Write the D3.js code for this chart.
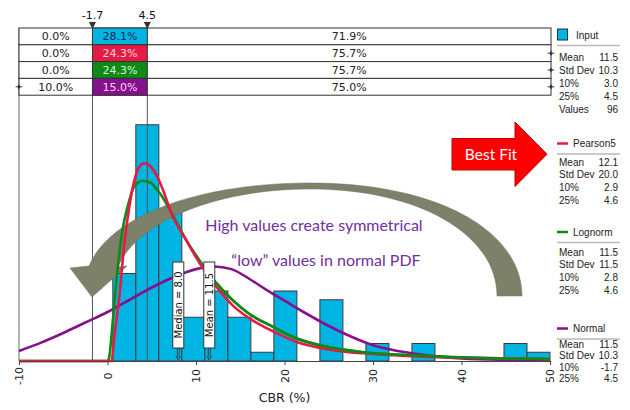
<!DOCTYPE html>
<html>
<head>
<meta charset="utf-8">
<script src="https://cdn.jsdelivr.net/npm/d3@7"></script>
<style>
  body { margin: 0; background: #fff; }
  svg { display: block; font-family: "DejaVu Sans", sans-serif; }
</style>
</head>
<body>
<div class="content"></div>
<script>
//--> Histogram data (CBR %, counts of 96 values)
const binEdges = [0.6, 3.2, 5.8, 8.4, 11.0, 13.6, 16.2, 18.8, 21.4, 24.0, 26.6, 29.2, 31.8, 34.4, 37.0, 39.6, 42.2, 44.8, 47.4, 50.0];
const binCounts = [10, 27, 17, 5, 8, 5, 1, 8, 0, 7, 0, 2, 0, 2, 0, 0, 0, 2, 1];

//--> Fitted curves [CBR, scaled density]
const pearson5Pts = [
  [-10, 0], [0, 0], [0.45, 0], [0.77, 2.8], [1.33, 7.3], [1.9, 13.4], [2.46, 17.6], [3.0, 20.5],
  [3.6, 22.2], [4.16, 22.6], [4.9, 22.2], [5.66, 21.0], [6.4, 19.2], [7.2, 16.9], [8.9, 13.8],
  [10.4, 11.2], [12.3, 8.5], [14.2, 6.3], [16.0, 4.9], [19.1, 3.2], [21.3, 2.2], [24.0, 1.5],
  [26.6, 1.1], [29.3, 0.85], [34.2, 0.55], [38.7, 0.4], [44.4, 0.3], [50, 0.22]
];
const lognormPts = [
  [-10, 0], [0, 0], [0.2, 0.45], [0.57, 4.3], [1.13, 10.4], [1.7, 15.0], [2.26, 17.6], [3.0, 19.9],
  [3.96, 20.6], [4.8, 20.4], [5.9, 19.2], [7.3, 16.8], [8.9, 13.8], [10.4, 11.5], [12.3, 8.9],
  [14.2, 6.9], [16.0, 5.4], [18.7, 3.9], [21.3, 2.6], [24.0, 1.8], [26.6, 1.3], [29.3, 0.95],
  [34.2, 0.65], [38.7, 0.45], [44.4, 0.3], [50, 0.22]
];
const normalPts = [
  [-10, 1.15], [-7.5, 2.1], [-5, 3.2], [-2.5, 4.4], [0, 5.6], [2.5, 7.0], [5, 8.4], [7.5, 9.6],
  [10, 10.5], [12, 10.8], [14, 10.5], [16, 9.4], [18, 8.1], [20, 6.9], [22.5, 5.4], [25, 4.0],
  [27.5, 2.8], [30, 1.8], [32.5, 1.2], [35, 0.8], [37.5, 0.5], [40, 0.3], [45, 0.12], [50, 0.05]
];

//--> Axis, markers, table
const xTicks = [-10, 0, 10, 20, 30, 40, 50];
const markerValues = [-1.7, 4.5];
const leftPct = ["0.0%", "0.0%", "0.0%", "10.0%"];
const midPct = ["28.1%", "24.3%", "24.3%", "15.0%"];
const rightPct = ["71.9%", "75.7%", "75.7%", "75.0%"];
const medianValue = 8.0;
const meanValue = 11.5;

//--> Legend
const seriesNames = ["Input", "Pearson5", "Lognorm", "Normal"];
const seriesColors = ["#00b4e4", "#e41b45", "#0f8a17", "#86118c"];
const midTextColors = ["#0b2a55", "#ffd6de", "#d6f5d6", "#f4d6f6"];
const statLabels = [
  ["Mean", "Std Dev", "10%", "25%", "Values"],
  ["Mean", "Std Dev", "10%", "25%"],
  ["Mean", "Std Dev", "10%", "25%"],
  ["Mean", "Std Dev", "10%", "25%"]
];
const statValues = [
  ["11.5", "10.3", "3.0", "4.5", "96"],
  ["12.1", "20.0", "2.9", "4.6"],
  ["11.5", "11.5", "2.8", "4.6"],
  ["11.5", "10.3", "-1.7", "4.5"]
];

//--> Set up main elements
const width = 630;
const height = 410;

const svg = d3
  .select(".content")
  .append("svg")
  .attr("width", width)
  .attr("height", height);

const x = d3.scaleLinear().domain([-10, 50]).range([19, 550]);
const y = d3.scaleLinear().domain([0, 30.4]).range([361, 95]);

const tableTop = 28;
const rowH = 16.8;
const tableRight = x(50) + 1;

//--> Histogram bars
const bins = binCounts
  .map((c, i) => ({ lo: binEdges[i], hi: binEdges[i + 1], c }))
  .filter(d => d.c > 0);

svg
  .append("g")
  .selectAll("rect")
  .data(bins)
  .join("rect")
  .attr("x", d => x(d.lo))
  .attr("y", d => y(d.c))
  .attr("width", d => x(d.hi) - x(d.lo))
  .attr("height", d => y(0) - y(d.c))
  .attr("fill", seriesColors[0])
  .attr("stroke", "#3b3b3b")
  .attr("stroke-width", 1);

//--> Left border and marker lines
svg
  .append("line")
  .attr("x1", x(-10))
  .attr("x2", x(-10))
  .attr("y1", tableTop)
  .attr("y2", y(0))
  .attr("stroke", "#666");

svg
  .append("g")
  .selectAll("line")
  .data(markerValues)
  .join("line")
  .attr("x1", d => x(d))
  .attr("x2", d => x(d))
  .attr("y1", 24)
  .attr("y2", y(0))
  .attr("stroke", "#555");

//--> Gray curved arrow (annotation)
svg
  .append("path")
  .attr(
    "d",
    "M522,296 C522,232 440,183 310,183 C200,183 110,215 89,266 L70,268 L92,297 L127,266 L118,267 C135,225 210,189 310,189 C420,189 497,235 497,296 Z"
  )
  .attr("fill", "#7d816a")
  .attr("stroke", "#6f735c")
  .attr("stroke-width", 0.5);

//--> Fitted curves
const line = d3
  .line()
  .x(d => x(d[0]))
  .y(d => y(d[1]))
  .curve(d3.curveMonotoneX);

[
  [normalPts, seriesColors[3]],
  [lognormPts, seriesColors[2]],
  [pearson5Pts, seriesColors[1]],
].forEach(([pts, color]) => {
  svg
    .append("path")
    .attr("d", line(pts))
    .attr("fill", "none")
    .attr("stroke", color)
    .attr("stroke-width", 2.6);
});

// green tail drawn again so it shows above red as in the reference
svg
  .append("path")
  .attr("d", line(lognormPts.filter(d => d[0] >= 12)))
  .attr("fill", "none")
  .attr("stroke", seriesColors[2])
  .attr("stroke-width", 2.6);

//--> Median and mean flags
const flags = [
  { v: medianValue, label: `Median = ${medianValue.toFixed(1)}` },
  { v: meanValue, label: `Mean = ${meanValue.toFixed(1)}` },
];

const flag = svg.append("g").selectAll("g").data(flags).join("g");

flag
  .append("rect")
  .attr("x", d => x(d.v) - 5.5)
  .attr("y", 262)
  .attr("width", 11)
  .attr("height", 86)
  .attr("fill", "#fff")
  .attr("stroke", "#333");

flag
  .append("text")
  .attr("transform", d => `translate(${x(d.v) + 0.5},305) rotate(-90)`)
  .attr("text-anchor", "middle")
  .attr("dy", "0.35em")
  .attr("font-size", 10)
  .attr("fill", "#111")
  .text(d => d.label);

flag
  .append("path")
  .attr("d", d => `M${x(d.v) - 1},348V358M${x(d.v) + 1},348V358M${x(d.v) - 2.5},356L${x(d.v)},360L${x(d.v) + 2.5},356`)
  .attr("fill", "none")
  .attr("stroke", "#333")
  .attr("stroke-width", 0.8);

//--> X axis
const xAxis = svg
  .append("g")
  .attr("transform", `translate(0,${y(0)})`)
  .call(
    d3
      .axisBottom(x)
      .tickValues(xTicks)
      .tickFormat(d => String(d))
      .tickSize(4)
      .tickSizeOuter(0)
  );

xAxis.select(".domain").attr("stroke", "#444");
xAxis.selectAll(".tick line").attr("stroke", "#444");
xAxis
  .selectAll(".tick text")
  .attr("transform", "rotate(-90)")
  .attr("x", -15)
  .attr("y", 0)
  .attr("dy", "0.35em")
  .attr("text-anchor", "middle")
  .attr("font-size", 11)
  .attr("font-family", '"DejaVu Sans", sans-serif')
  .attr("fill", "#222");

svg
  .append("text")
  .attr("x", x(20))
  .attr("y", 402)
  .attr("text-anchor", "middle")
  .attr("font-size", 12.5)
  .attr("fill", "#222")
  .text("CBR (%)");

//--> Table of probabilities
const rows = svg
  .append("g")
  .selectAll("g")
  .data(d3.range(4))
  .join("g")
  .attr("transform", i => `translate(0,${tableTop + i * rowH})`);

rows
  .append("rect")
  .attr("x", x(-10))
  .attr("width", tableRight - x(-10))
  .attr("height", rowH)
  .attr("fill", "#fff")
  .attr("stroke", "#333");

rows
  .append("rect")
  .attr("x", x(markerValues[0]))
  .attr("width", x(markerValues[1]) - x(markerValues[0]))
  .attr("height", rowH)
  .attr("fill", i => seriesColors[i])
  .attr("stroke", "#333");

const cellText = (sel, xPos, txt, color) =>
  sel
    .append("text")
    .attr("x", xPos)
    .attr("y", rowH / 2)
    .attr("dy", "0.36em")
    .attr("text-anchor", "middle")
    .attr("font-size", 11)
    .attr("fill", color)
    .text(txt);

cellText(rows, (x(-10) + x(markerValues[0])) / 2, i => leftPct[i], "#222");
cellText(rows, (x(markerValues[0]) + x(markerValues[1])) / 2, i => midPct[i], i => midTextColors[i]);
cellText(rows, (x(markerValues[1]) + tableRight) / 2, i => rightPct[i], "#222");

// small tail glyphs at the table edges
const glyph = "M-3.5,0H3.5M0,-2.5V2.5M-1.5,0L0,-1.5L1.5,0L0,1.5Z";
[[tableRight, 1], [tableRight, 2], [tableRight, 3], [x(-10), 3]].forEach(([gx, r]) => {
  svg
    .append("path")
    .attr("transform", `translate(${gx},${tableTop + r * rowH + rowH / 2})`)
    .attr("d", glyph)
    .attr("fill", "#333")
    .attr("stroke", "#333")
    .attr("stroke-width", 0.8);
});

//--> Marker labels and triangles
const mk = svg.append("g").selectAll("g").data(markerValues).join("g");

mk.append("text")
  .attr("x", d => x(d))
  .attr("y", 19)
  .attr("text-anchor", "middle")
  .attr("font-size", 11)
  .attr("fill", "#111")
  .text(d => d.toFixed(1));

mk.append("path")
  .attr("d", d => `M${x(d) - 3.5},22H${x(d) + 3.5}L${x(d)},29Z`)
  .attr("fill", "#333");

//--> Annotation text
const note = svg
  .append("g")
  .attr("font-family", "Lato, 'Open Sans', sans-serif")
  .attr("font-size", 16)
  .attr("fill", "#7030a0")
  .attr("text-anchor", "middle");

note.append("text").attr("x", 314).attr("y", 231).text("High values create symmetrical");
note.append("text").attr("x", 326).attr("y", 266).text("\u201clow\u201d values in normal PDF");

//--> Best fit arrow
svg
  .append("path")
  .attr("d", "M452,138.5H515V122L547,154.2L515,186.5V170H452Z")
  .attr("fill", "#ff0000")
  .attr("stroke", "#c00000")
  .attr("stroke-width", 1);

svg
  .append("text")
  .attr("x", 491)
  .attr("y", 160)
  .attr("text-anchor", "middle")
  .attr("font-family", "Lato, 'Open Sans', sans-serif")
  .attr("font-size", 15.5)
  .attr("fill", "#fff")
  .text("Best Fit");

//--> Right-hand legend
const headY = [35, 143.5, 232, 328.5];
const statY0 = [57, 162, 252, 344];
const statStep = [13.2, 12.8, 12.8, 11.6];
const lx = 557;
const rx = 618;

seriesNames.forEach((name, g) => {
  const grp = svg
    .append("g")
    .attr("font-family", '"Liberation Sans", Arial, sans-serif')
    .attr("font-size", 10)
    .attr("fill", "#222");

  if (g === 0) {
    grp
      .append("rect")
      .attr("x", lx + 0.5)
      .attr("y", headY[g] - 6)
      .attr("width", 10)
      .attr("height", 11)
      .attr("fill", seriesColors[g])
      .attr("stroke", "#234");
  } else {
    grp
      .append("line")
      .attr("x1", lx)
      .attr("x2", lx + 11)
      .attr("y1", headY[g])
      .attr("y2", headY[g])
      .attr("stroke", seriesColors[g])
      .attr("stroke-width", 2.5);
  }

  grp
    .append("text")
    .attr("x", g === 0 ? lx + 19 : lx + 16)
    .attr("y", headY[g])
    .attr("dy", "0.35em")
    .text(name);

  grp
    .append("line")
    .attr("x1", lx)
    .attr("x2", rx + 2)
    .attr("y1", headY[g] + 10.5)
    .attr("y2", headY[g] + 10.5)
    .attr("stroke", "#b8b8b8")
    .attr("stroke-width", 1.5);

  statLabels[g].forEach((lab, k) => {
    const yy = statY0[g] + k * statStep[g];
    grp.append("text").attr("x", lx + 2).attr("y", yy).attr("dy", "0.35em").text(lab);
    grp
      .append("text")
      .attr("x", rx)
      .attr("y", yy)
      .attr("dy", "0.35em")
      .attr("text-anchor", "end")
      .text(statValues[g][k]);
  });
});
</script>
</body>
</html>
